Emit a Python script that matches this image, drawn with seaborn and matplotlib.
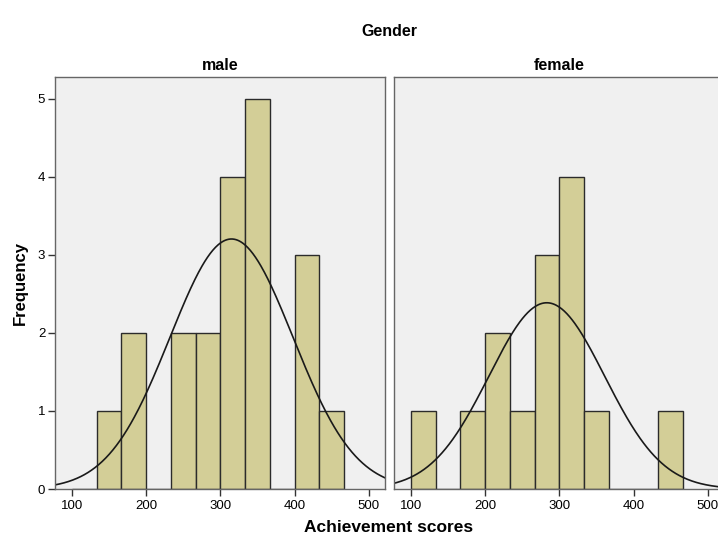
import numpy as np
import pandas as pd
import seaborn as sns
import matplotlib.pyplot as plt

# bin edges (width 100/3) and counts
bin_edges = [100, 133.33, 166.67, 200, 233.33, 266.67, 300, 333.33, 366.67, 400, 433.33, 466.67]
male_counts = [0, 1, 2, 0, 2, 2, 4, 5, 0, 3, 1]
female_counts = [1, 0, 1, 2, 1, 3, 4, 1, 0, 0, 1]

# normal curve parameters (mean, sd) as drawn
male_norm = (315.0, 83.0)
female_norm = (283.0, 78.0)

panels = ['male', 'female']
xticks = [100, 200, 300, 400, 500]
yticks = [0, 1, 2, 3, 4, 5]

sns.set_theme(style='white')
plt.rcParams['font.family'] = ['Liberation Sans', 'DejaVu Sans']
plt.rcParams['text.color'] = 'black'

centers = [(bin_edges[i] + bin_edges[i + 1]) / 2 for i in range(len(bin_edges) - 1)]
df = pd.concat([
    pd.DataFrame({'score': centers, 'n': male_counts, 'Gender': 'male'}),
    pd.DataFrame({'score': centers, 'n': female_counts, 'Gender': 'female'}),
])
norms = {'male': male_norm, 'female': female_norm}

W, H = 718, 535
fig = plt.figure(figsize=(W / 100, H / 100), dpi=100)
ax_l = fig.add_axes([55 / W, 1 - 489 / H, 330 / W, 412 / H])
ax_r = fig.add_axes([394 / W, 1 - 489 / H, 330 / W, 412 / H])
binw = bin_edges[1] - bin_edges[0]

for ax, g in zip([ax_l, ax_r], panels):
    sub = df[df.Gender == g]
    sub = sub[sub.n > 0]
    sns.histplot(data=sub, x='score', weights='n', bins=bin_edges, ax=ax,
                 color='#D3CE97', alpha=1, edgecolor='#2b2b2b', linewidth=1.0)
    mu, sd = norms[g]
    xs = np.linspace(60, 540, 400)
    ys = sub.n.sum() * binw * np.exp(-0.5 * ((xs - mu) / sd) ** 2) / (sd * np.sqrt(2 * np.pi))
    sns.lineplot(x=xs, y=ys, ax=ax, color='#1a1a1a', linewidth=1.2)
    ax.set_facecolor('#F0F0F0')
    ax.set_xlim(77, 522)
    ax.set_ylim(0, 5.28)
    ax.set_xticks(xticks)
    ax.set_xticklabels([str(t) for t in xticks], fontsize=9.5, color='black')
    ax.set_xlabel('')
    ax.set_ylabel('')
    for s in ax.spines.values():
        s.set_color('#666666')
        s.set_linewidth(1.0)
    ax.tick_params(axis='x', bottom=True, length=5, width=1, color='#333333', pad=3)
    ax.set_title(g, fontsize=11.5, fontweight='bold', pad=5, color='black')

ax_l.set_yticks(yticks)
ax_l.set_yticklabels([str(t) for t in yticks], fontsize=9.5, color='black')
ax_l.tick_params(axis='y', left=True, length=5, width=1, color='#333333', pad=2)
ax_r.set_yticks([])

fig.text(389 / W, 1 - 31 / H, 'Gender', ha='center', va='center', fontsize=11.5, fontweight='bold')
fig.text(389 / W, 1 - 527 / H, 'Achievement scores', ha='center', va='center', fontsize=12.5, fontweight='bold')
fig.text(20 / W, 1 - 283 / H, 'Frequency', ha='center', va='center', rotation=90, fontsize=12, fontweight='bold')

fig.savefig('out.png', dpi=100, facecolor='white')
